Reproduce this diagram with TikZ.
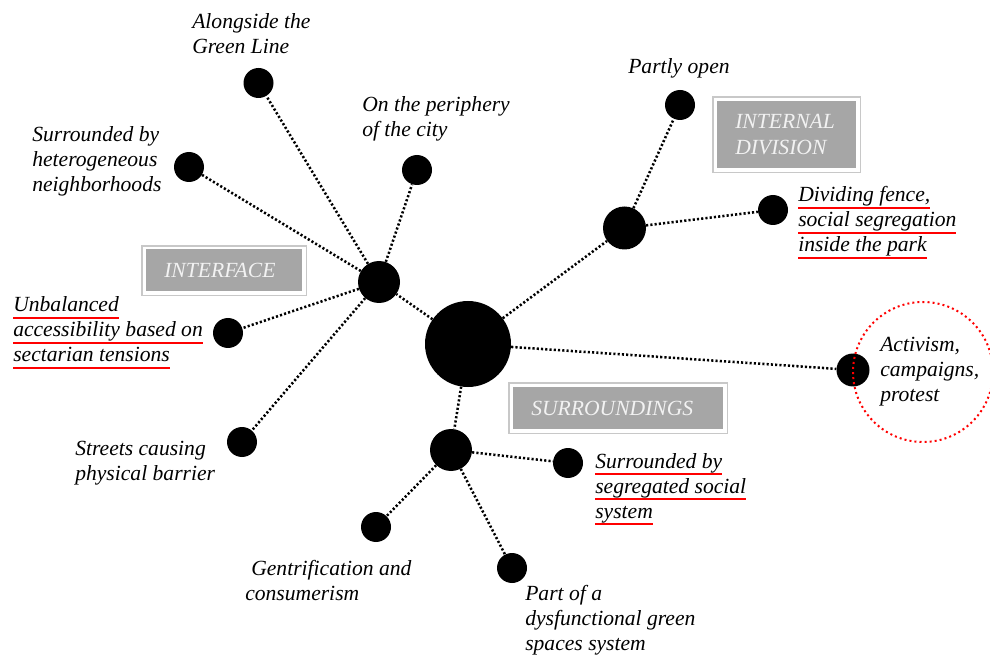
\documentclass[tikz,border=0pt]{standalone}
\usepackage{fontspec}
\setmainfont{Liberation Serif}
\definecolor{tagfill}{HTML}{A6A6A6}
\definecolor{tagframe}{HTML}{C8C8C8}
\definecolor{tagtext}{HTML}{F2F2F2}
\definecolor{ulred}{HTML}{FF0000}
% red underline drawn under one line of text
\newcommand\redul[1]{\leavevmode\setbox0=\hbox{#1}\rlap{\textcolor{ulred}{\rule[-5.4pt]{\wd0}{1.7pt}}}\box0}
\begin{document}
\begin{tikzpicture}[x=0.75pt,y=-0.75pt,
  blob/.style={circle,fill=black,inner sep=0pt,minimum size=#1*0.75pt},
  link/.style={line width=1.9pt,dash pattern=on 1.6pt off 1.6pt},
  lbl/.style={anchor=base west,align=left,inner sep=0pt,
    font=\fontsize{16.2}{18.75}\selectfont\itshape},
  tag/.style={anchor=north west,fill=tagfill,text=tagtext,align=left,
    inner ysep=0pt,inner xsep=13.5pt,font=\fontsize{16.2}{19.5}\selectfont\itshape},
  frame/.style={draw=tagframe,line width=0.8pt}]
\useasboundingbox (0,0) rectangle (990,656);

% hubs
\node[blob=86] (core) at (468,344) {};
\node[blob=42] (hubI) at (379,282) {};
\node[blob=43] (hubD) at (624.5,228) {};
\node[blob=42] (hubS) at (451,450) {};
\node[blob=33] (act) at (853,370) {};

% leaves
\node[blob=30] (along) at (258.5,83) {};
\node[blob=30] (hetero) at (189,167) {};
\node[blob=30] (peri) at (417,170) {};
\node[blob=30] (unbal) at (228,333) {};
\node[blob=30] (street) at (242,442) {};
\node[blob=30] (partly) at (680,105) {};
\node[blob=30] (fence) at (773,210) {};
\node[blob=30] (segr) at (568,463) {};
\node[blob=30] (gentr) at (376,527) {};
\node[blob=30] (dysf) at (512,568) {};

% connectors
\draw[link] (core) -- (hubI);
\draw[link] (core) -- (hubD);
\draw[link] (core) -- (hubS);
\draw[link] (core) -- (act);
\draw[link] (hubI) -- (along);
\draw[link] (hubI) -- (hetero);
\draw[link] (hubI) -- (peri);
\draw[link] (hubI) -- (unbal);
\draw[link] (hubI) -- (street);
\draw[link] (hubD) -- (partly);
\draw[link] (hubD) -- (fence);
\draw[link] (hubS) -- (segr);
\draw[link] (hubS) -- (gentr);
\draw[link] (hubS) -- (dysf);

% dotted red ring around the activism node
\draw[ulred,line width=1.5pt,dash pattern=on 1.5pt off 2.3pt] (923,372) circle[radius=70];

% category tags
\node[tag,text width=120*0.75pt,minimum height=42*0.75pt] (tI) at (146,249) {INTERFACE};
\draw[frame] ([shift={(-4,-3)}]tI.north west) rectangle ([shift={(4,4)}]tI.south east);
\node[tag,text width=103*0.75pt,minimum height=67*0.75pt] (tD) at (717,101) {INTERNAL\\DIVISION};
\draw[frame] ([shift={(-4,-4)}]tD.north west) rectangle ([shift={(4,4)}]tD.south east);
\node[tag,text width=174*0.75pt,minimum height=42*0.75pt] (tS) at (513,387) {SURROUNDINGS};
\draw[frame] ([shift={(-4,-4)}]tS.north west) rectangle ([shift={(4,4)}]tS.south east);

% labels (anchored at the baseline of their last line)
\node[lbl] (lAlong) at (192,54) {Alongside the\\Green Line};
\node[lbl] (lPeri) at (362,137) {On the periphery\\of the city};
\node[lbl] (lHetero) at (32,192) {Surrounded by\\heterogeneous\\neighborhoods};
\node[lbl] (lUnbal) at (13,362) {\redul{Unbalanced}\\\redul{accessibility based on}\\\redul{sectarian tensions}};
\node[lbl] (lStreet) at (75,480) {Streets causing\\physical barrier};
\node[lbl] (lPartly) at (628,74) {Partly open};
\node[lbl] (lFence) at (798,252) {\redul{Dividing fence,}\\\redul{social segregation}\\\redul{inside the park}};
\node[lbl] (lAct) at (880,402) {Activism,\\campaigns,\\protest};
\node[lbl] (lSegr) at (595,518) {\redul{Surrounded by}\\\redul{segregated social}\\\redul{system}};
\node[lbl] (lGentr) at (245,600) {\hspace*{4.5pt}Gentrification and\\consumerism};
\node[lbl] (lDysf) at (525,650) {Part of a\\dysfunctional green\\spaces system};
\end{tikzpicture}
\end{document}
